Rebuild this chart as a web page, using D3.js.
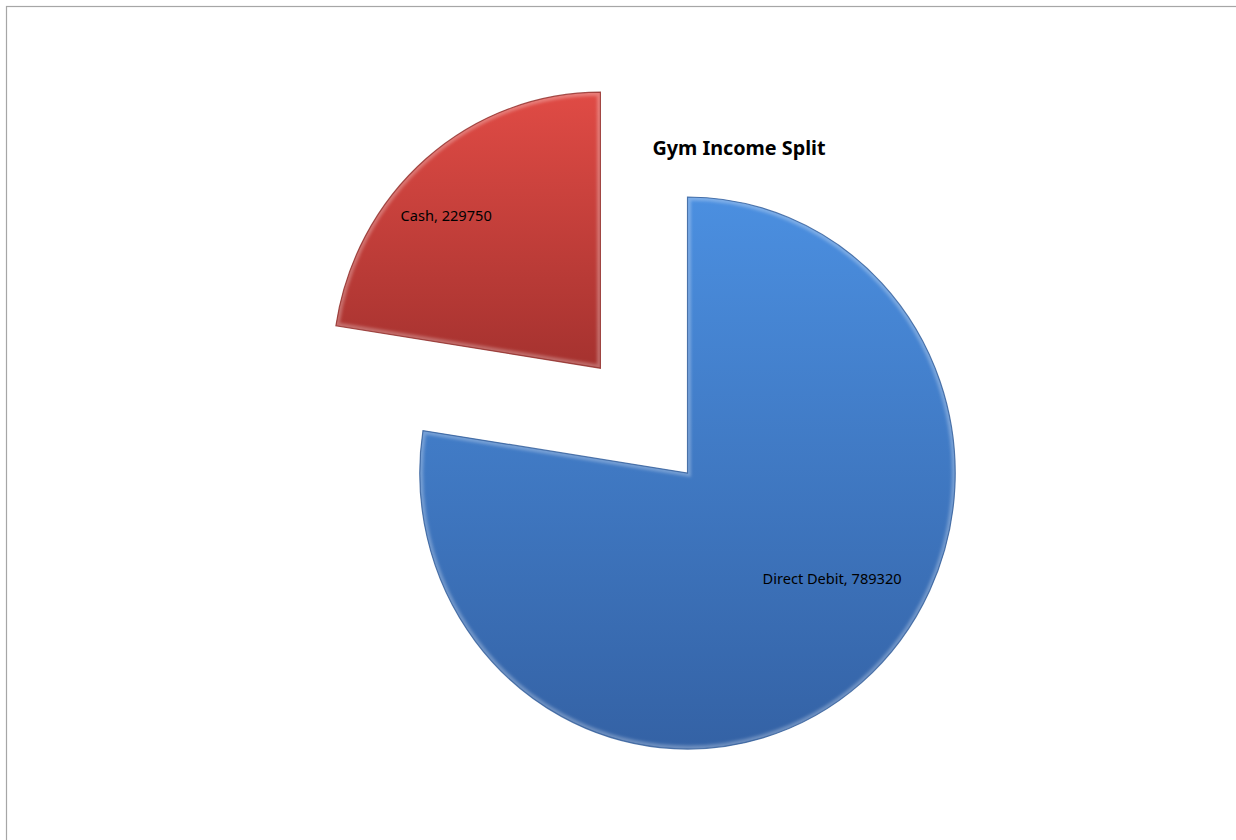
<!DOCTYPE html>
<html>
<head>
<meta charset="utf-8">
<script src="https://cdn.jsdelivr.net/npm/d3@7"></script>
<style>
  html, body { margin: 0; padding: 0; background: #ffffff; }
  svg { display: block; }
</style>
</head>
<body>
<svg id="chart" width="1236" height="840"></svg>
<script>
// Income split between payment methods
const categories = ["Direct Debit", "Cash"];
const values = [789320, 229750];
const titleText = "Gym Income Split";

// Slice styling: gradient top/bottom colours, explosion and label placement
const sliceTop = ["#4b8fe0", "#e04b45"];
const sliceBottom = ["#3462a5", "#a5322f"];
const sliceStroke = ["#2f5b99", "#8f2a27"];
const explode = [0, 0.5];            // fraction of radius
const labelRadius = [0.66, 0.80];    // fraction of radius
const labelAngleShift = [-0.25, -0.096]; // radians relative to slice mid-angle

const W = 1236, H = 840;
const cx = 687.5, cy = 473, R = 276, sx = 0.97;

const svg = d3.select("#chart");
const defs = svg.append("defs");

// chart area frame
svg.append("rect")
  .attr("x", 6.5).attr("y", 6.5)
  .attr("width", W + 40).attr("height", H + 40)
  .attr("fill", "#ffffff")
  .attr("stroke", "#a6a6a6")
  .attr("stroke-width", 1.2);

const pie = d3.pie().sort(null).value(d => d)(values);
const arc = d3.arc().innerRadius(0).outerRadius(R);

const blur = defs.append("filter").attr("id", "soft")
  .attr("x", "-10%").attr("y", "-10%").attr("width", "120%").attr("height", "120%");
blur.append("feGaussianBlur").attr("stdDeviation", 1.6);

const root = svg.append("g").attr("transform", `translate(${cx},${cy})`);

pie.forEach((p, i) => {
  const mid = (p.startAngle + p.endAngle) / 2;
  const off = explode[i] * R;
  const ox = Math.sin(mid) * off * sx, oy = -Math.cos(mid) * off;

  const g = root.append("g").attr("transform", `translate(${ox},${oy}) scale(${sx},1)`);

  // vertical gradient across the slice extent
  const angles = d3.range(p.startAngle, p.endAngle, 0.01).concat([p.endAngle]);
  const ys = angles.map(a => -Math.cos(a) * R).concat([0]);
  const gy0 = d3.min(ys), gy1 = d3.max(ys);

  const grad = defs.append("linearGradient")
    .attr("id", "grad" + i)
    .attr("gradientUnits", "userSpaceOnUse")
    .attr("x1", 0).attr("y1", gy0).attr("x2", 0).attr("y2", gy1);
  grad.append("stop").attr("offset", "0%").attr("stop-color", sliceTop[i]);
  grad.append("stop").attr("offset", "100%").attr("stop-color", sliceBottom[i]);

  const clipId = "clip" + i;
  defs.append("clipPath").attr("id", clipId)
    .append("path").attr("d", arc(p));

  g.append("path")
    .attr("d", arc(p))
    .attr("fill", `url(#grad${i})`);

  // soft bevel: light inner rim and darker outline
  g.append("path")
    .attr("d", arc(p))
    .attr("fill", "none")
    .attr("stroke", "#ffffff")
    .attr("stroke-opacity", 0.28)
    .attr("stroke-width", 7)
    .attr("clip-path", `url(#${clipId})`)
    .attr("filter", "url(#soft)");

  g.append("path")
    .attr("d", arc(p))
    .attr("fill", "none")
    .attr("stroke", sliceStroke[i])
    .attr("stroke-width", 1.2)
    .attr("stroke-opacity", 0.8);

  // data label
  const la = mid + labelAngleShift[i];
  const lr = labelRadius[i] * R;
  const lx = ox + Math.sin(la) * lr * sx;
  const ly = oy - Math.cos(la) * lr;
  root.append("text")
    .attr("x", lx).attr("y", ly)
    .attr("text-anchor", "middle")
    .attr("dominant-baseline", "central")
    .attr("font-family", "'Noto Sans', 'Open Sans', sans-serif")
    .attr("font-size", 14.6)
    .attr("fill", "#000000")
    .text(`${categories[i]}, ${values[i]}`);
});

svg.append("text")
  .attr("x", 739).attr("y", 147)
  .attr("text-anchor", "middle")
  .attr("dominant-baseline", "central")
  .attr("font-family", "'Noto Sans', 'Open Sans', sans-serif")
  .attr("font-weight", "bold")
  .attr("font-size", 19.8)
  .attr("fill", "#000000")
  .text(titleText);
</script>
</body>
</html>
